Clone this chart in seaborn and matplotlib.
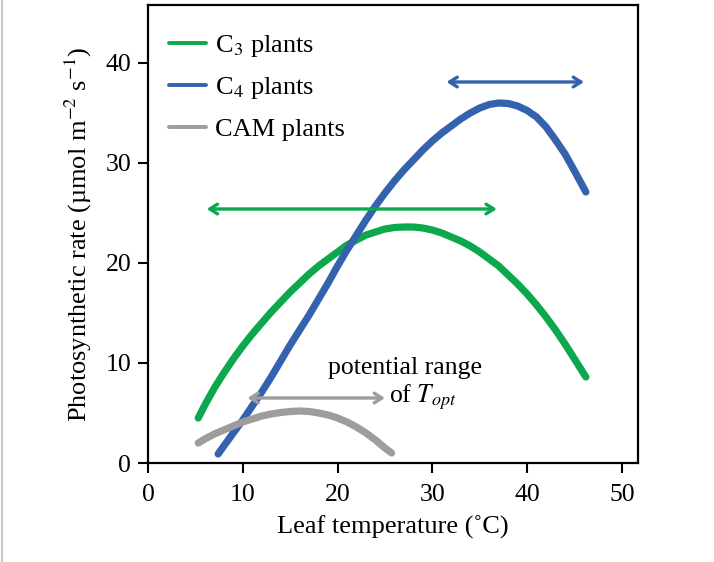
import matplotlib
matplotlib.use("Agg")
import matplotlib.pyplot as plt
import numpy as np
import pandas as pd
import seaborn as sns
from matplotlib.lines import Line2D

# (leaf temperature in deg C, rate in umol m-2 s-1)
c3_temp = [5.3, 6, 7, 8, 9, 10, 11, 12, 13, 14, 15, 16, 17, 18, 19, 20, 21, 22, 23, 24, 25,
           26, 27, 28, 29, 30, 31, 32, 33, 34, 35, 36, 37, 38, 39, 40, 41, 42, 43, 44, 45, 46.2]
c3_rate = [4.5, 5.8, 7.5, 9.0, 10.4, 11.7, 12.9, 14.0, 15.1, 16.1, 17.1, 18.0, 18.9, 19.7,
           20.4, 21.1, 21.8, 22.3, 22.8, 23.1, 23.4, 23.55, 23.6, 23.6, 23.5, 23.3, 23.0,
           22.6, 22.2, 21.7, 21.1, 20.4, 19.7, 18.8, 17.9, 16.9, 15.8, 14.6, 13.3, 11.9,
           10.4, 8.6]

c4_temp = [7.4, 8, 9, 10, 11, 12, 13, 14, 15, 16, 17, 18, 19, 20, 21, 22, 23, 24, 25, 26,
           27, 28, 29, 30, 31, 32, 33, 34, 35, 36, 37, 38, 39, 40, 41, 42, 43, 44, 45, 46.2]
c4_rate = [0.9, 1.7, 3.0, 4.3, 5.7, 7.1, 8.6, 10.2, 11.8, 13.3, 14.8, 16.4, 18.0, 19.7,
           21.3, 22.8, 24.3, 25.7, 27.0, 28.2, 29.3, 30.3, 31.3, 32.2, 33.0, 33.7, 34.4,
           35.0, 35.5, 35.85, 36.0, 35.95, 35.7, 35.25, 34.6, 33.6, 32.3, 30.9, 29.2, 27.1]

cam_temp = [5.3, 6, 7, 8, 9, 10, 11, 12, 13, 14, 15, 16, 17, 18, 19, 20, 21, 22, 23, 24,
            25, 25.7]
cam_rate = [2.0, 2.4, 2.9, 3.3, 3.7, 4.1, 4.4, 4.7, 4.9, 5.05, 5.15, 5.2, 5.15, 5.0, 4.8,
            4.5, 4.1, 3.6, 3.0, 2.3, 1.5, 1.0]

# potential range of T_opt arrows: (x start, x end, y)
c3_range = [6.2, 36.8, 25.4]
c4_range = [31.5, 46.0, 38.1]
cam_range = [10.5, 25.0, 6.5]

labels = ['C$_3$ plants', 'C$_4$ plants', 'CAM plants']
colors = ['#0BA84E', '#3462AE', '#9D9D9D']

sns.set_style("ticks")
plt.rcParams['font.family'] = ['Liberation Serif', 'DejaVu Serif']
plt.rcParams['mathtext.fontset'] = 'stix'
plt.rcParams['text.color'] = 'black'
plt.rcParams['axes.labelcolor'] = 'black'
plt.rcParams['xtick.color'] = 'black'
plt.rcParams['ytick.color'] = 'black'

df = pd.concat([
    pd.DataFrame({'temp': c3_temp, 'rate': c3_rate, 'type': labels[0]}),
    pd.DataFrame({'temp': c4_temp, 'rate': c4_rate, 'type': labels[1]}),
    pd.DataFrame({'temp': cam_temp, 'rate': cam_rate, 'type': labels[2]}),
])

fig = plt.figure(figsize=(7.14, 5.62), dpi=100)
ax = fig.add_axes([148/714, 1-463/562, 490/714, 458/562])

sns.lineplot(data=df, x='temp', y='rate', hue='type', palette=colors, linewidth=5.2,
             ax=ax, sort=False, estimator=None, solid_capstyle='round',
             solid_joinstyle='round')

for rng, col in zip([c3_range, c4_range, cam_range], colors):
    ax.annotate('', xy=(rng[0], rng[2]), xytext=(rng[1], rng[2]),
                arrowprops=dict(arrowstyle='<->,head_length=0.55,head_width=0.35',
                                color=col, lw=2.4, shrinkA=0, shrinkB=0))

ax.text(27.1, 9.5, 'potential range', ha='center', va='center', fontsize=18.5)
ax.text(29.0, 6.6, 'of $T_{opt}$', ha='center', va='center', fontsize=18.5)

ax.set_xlim(0, 51.7)
ax.set_ylim(0, 45.8)
ax.set_xticks([0, 10, 20, 30, 40, 50])
ax.set_yticks([0, 10, 20, 30, 40])
ax.tick_params(direction='out', length=7, width=1.5, labelsize=18.5, colors='black')
ax.tick_params(axis='x', pad=8)
ax.tick_params(axis='y', pad=5)
for s in ax.spines.values():
    s.set_linewidth(1.6)
    s.set_color('black')

ax.set_xlabel('Leaf temperature (˚C)', fontsize=19, labelpad=7)
ax.set_ylabel('Photosynthetic rate (µmol m$^{-2}$ s$^{-1}$)', fontsize=19, labelpad=8)

leg = ax.legend(loc='upper left', frameon=False, fontsize=19, handlelength=1.4,
                labelspacing=0.62, borderaxespad=0.4, handletextpad=0.35, title=None,
                bbox_to_anchor=(0.0, 0.985))
for ln in leg.get_lines():
    ln.set_linewidth(2.8)
for t in leg.get_texts():
    t.set_color('black')

# thin grey border line at the left edge of the picture
fig.add_artist(Line2D([2/714, 2/714], [0, 1], color='#bbbbbb', lw=1.2))

plt.savefig('out.png', dpi=100)
